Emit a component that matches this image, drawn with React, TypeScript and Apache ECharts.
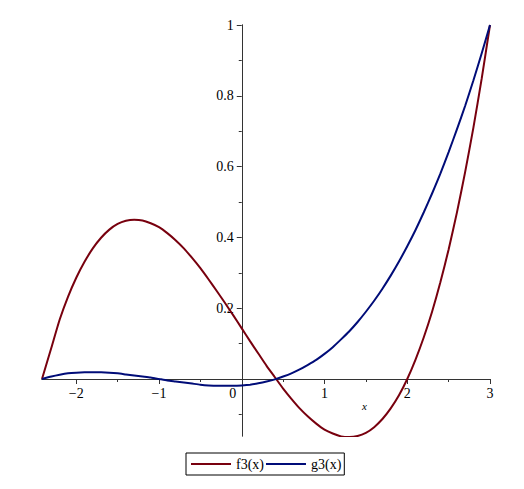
import React, { useEffect, useRef } from "react";
import * as echarts from "echarts";

const xValues = [-2.414, -2.3, -2.2, -2.1, -2.0, -1.9, -1.8, -1.7, -1.6, -1.5, -1.4, -1.3, -1.2, -1.1, -1.0, -0.9, -0.8, -0.7, -0.6, -0.5, -0.4, -0.3, -0.2, -0.1, 0, 0.1, 0.2, 0.3, 0.4, 0.5, 0.6, 0.7, 0.8, 0.9, 1.0, 1.1, 1.2, 1.3, 1.4, 1.5, 1.6, 1.7, 1.8, 1.9, 2.0, 2.1, 2.2, 2.3, 2.4, 2.5, 2.6, 2.7, 2.8, 2.9, 3.0];
const f3Values = [0, 0.089, 0.168, 0.232, 0.286, 0.331, 0.369, 0.399, 0.422, 0.438, 0.447, 0.45, 0.448, 0.440, 0.429, 0.412, 0.392, 0.369, 0.342, 0.313, 0.281, 0.248, 0.214, 0.179, 0.143, 0.107, 0.072, 0.037, 0.005, -0.027, -0.056, -0.083, -0.106, -0.126, -0.143, -0.154, -0.162, -0.164, -0.161, -0.152, -0.136, -0.113, -0.083, -0.046, 0, 0.055, 0.118, 0.190, 0.273, 0.366, 0.47, 0.585, 0.711, 0.849, 1.0];
const g3Values = [0, 0.007, 0.012, 0.016, 0.018, 0.019, 0.019, 0.019, 0.018, 0.016, 0.013, 0.010, 0.007, 0.004, 0, -0.004, -0.007, -0.010, -0.013, -0.016, -0.018, -0.019, -0.019, -0.019, -0.018, -0.016, -0.012, -0.007, -0.001, 0.007, 0.016, 0.027, 0.040, 0.054, 0.071, 0.090, 0.112, 0.135, 0.161, 0.190, 0.221, 0.255, 0.292, 0.332, 0.375, 0.421, 0.471, 0.524, 0.58, 0.641, 0.705, 0.772, 0.844, 0.920, 1.0];
const seriesNames = ["f3(x)", "g3(x)"];
const xMajorTicks = [-2, -1, 0, 1, 2, 3];
const xMinorTicks = [-1.5, -0.5, 0.5, 1.5, 2.5];
const yMajorTicks = [0.2, 0.4, 0.6, 0.8, 1];
const yMinorTicks = [-0.1, 0.1, 0.3, 0.5, 0.7, 0.9];

const FONT = "Liberation Serif";
const AXIS_COLOR = "#333";

export default function App() {
  const ref = useRef<HTMLDivElement>(null);
  useEffect(() => {
    if (!ref.current) return;
    const chart = echarts.init(ref.current, undefined, { renderer: "svg" });
    const xMin = xValues[0];
    const xMax = 3;
    const yMin = -0.161;
    const yMax = 1;
    const gridLeft = 42, gridRight = 34, gridTop = 25, gridBottom = 53;
    const W = 524, H = 489;
    const plotW = W - gridLeft - gridRight;
    const plotH = H - gridTop - gridBottom;
    // axes cross at the data origin
    const xAxisOffset = -(plotH * (0 - yMin)) / (yMax - yMin);
    const yAxisOffset = -(plotW * (0 - xMin)) / (xMax - xMin);
    const baseX = {
      type: "value" as const,
      min: xMin,
      max: xMax,
      position: "bottom" as const,
      offset: xAxisOffset,
      splitLine: { show: false },
      axisLine: { onZero: false, lineStyle: { color: AXIS_COLOR, width: 1 } },
    };
    const baseY = {
      type: "value" as const,
      min: yMin,
      max: yMax,
      position: "left" as const,
      offset: yAxisOffset,
      splitLine: { show: false },
      axisLine: { onZero: false, lineStyle: { color: AXIS_COLOR, width: 1 } },
    };
    chart.setOption({
      animation: false,
      grid: { left: gridLeft, right: gridRight, top: gridTop, bottom: gridBottom, containLabel: false },
      legend: {
        data: seriesNames,
        left: 186,
        top: 453,
        orient: "horizontal",
        icon: "rect",
        itemWidth: 40,
        itemHeight: 2,
        itemGap: 2,
        padding: [4, 3, 4, 5],
        borderColor: "#000",
        borderWidth: 1,
        borderRadius: 0,
        textStyle: { fontFamily: FONT, fontSize: 14, color: "#000" },
      },
      xAxis: [
        {
          ...baseX,
          axisTick: { show: true, length: 5, customValues: xMajorTicks, lineStyle: { color: AXIS_COLOR } },
          axisLabel: {
            show: true,
            margin: 7,
            customValues: xMajorTicks,
            fontFamily: FONT,
            fontSize: 14,
            color: "#000",
            formatter: (v: number) => (v === 0 ? "{z|0}" : v < 0 ? "\u2212" + Math.abs(v) : String(v)),
            rich: { z: { fontFamily: FONT, fontSize: 14, color: "#000", padding: [0, 18, 0, 0] } },
          },
        },
        {
          ...baseX,
          axisTick: { show: true, length: 3, customValues: xMinorTicks, lineStyle: { color: AXIS_COLOR } },
          axisLabel: { show: false },
        },
      ],
      yAxis: [
        {
          ...baseY,
          axisTick: { show: true, length: 5, customValues: yMajorTicks, lineStyle: { color: AXIS_COLOR } },
          axisLabel: {
            show: true,
            margin: 8,
            customValues: yMajorTicks,
            fontFamily: FONT,
            fontSize: 14,
            color: "#000",
            formatter: (v: number) => String(v),
          },
        },
        {
          ...baseY,
          axisTick: { show: true, length: 3, customValues: yMinorTicks, lineStyle: { color: AXIS_COLOR } },
          axisLabel: { show: false },
        },
      ],
      graphic: [
        {
          type: "text",
          left: 362,
          top: 400,
          style: { text: "x", fontFamily: FONT, fontStyle: "italic", fontSize: 11, fill: "#000" },
        },
      ],
      series: [
        {
          name: seriesNames[0],
          type: "line",
          xAxisIndex: 0,
          yAxisIndex: 0,
          data: xValues.map((x, i) => [x, f3Values[i]]),
          smooth: 0.2,
          symbol: "none",
          showSymbol: false,
          lineStyle: { color: "#78000E", width: 2 },
          itemStyle: { color: "#78000E" },
        },
        {
          name: seriesNames[1],
          type: "line",
          xAxisIndex: 0,
          yAxisIndex: 0,
          data: xValues.map((x, i) => [x, g3Values[i]]),
          smooth: 0.2,
          symbol: "none",
          showSymbol: false,
          lineStyle: { color: "#000C78", width: 2 },
          itemStyle: { color: "#000C78" },
        },
      ],
    });
    return () => chart.dispose();
  }, []);
  return (
    <div
      ref={ref}
      style={{ position: "fixed", left: 0, top: 0, width: 524, height: 489, background: "#fff" }}
    />
  );
}
